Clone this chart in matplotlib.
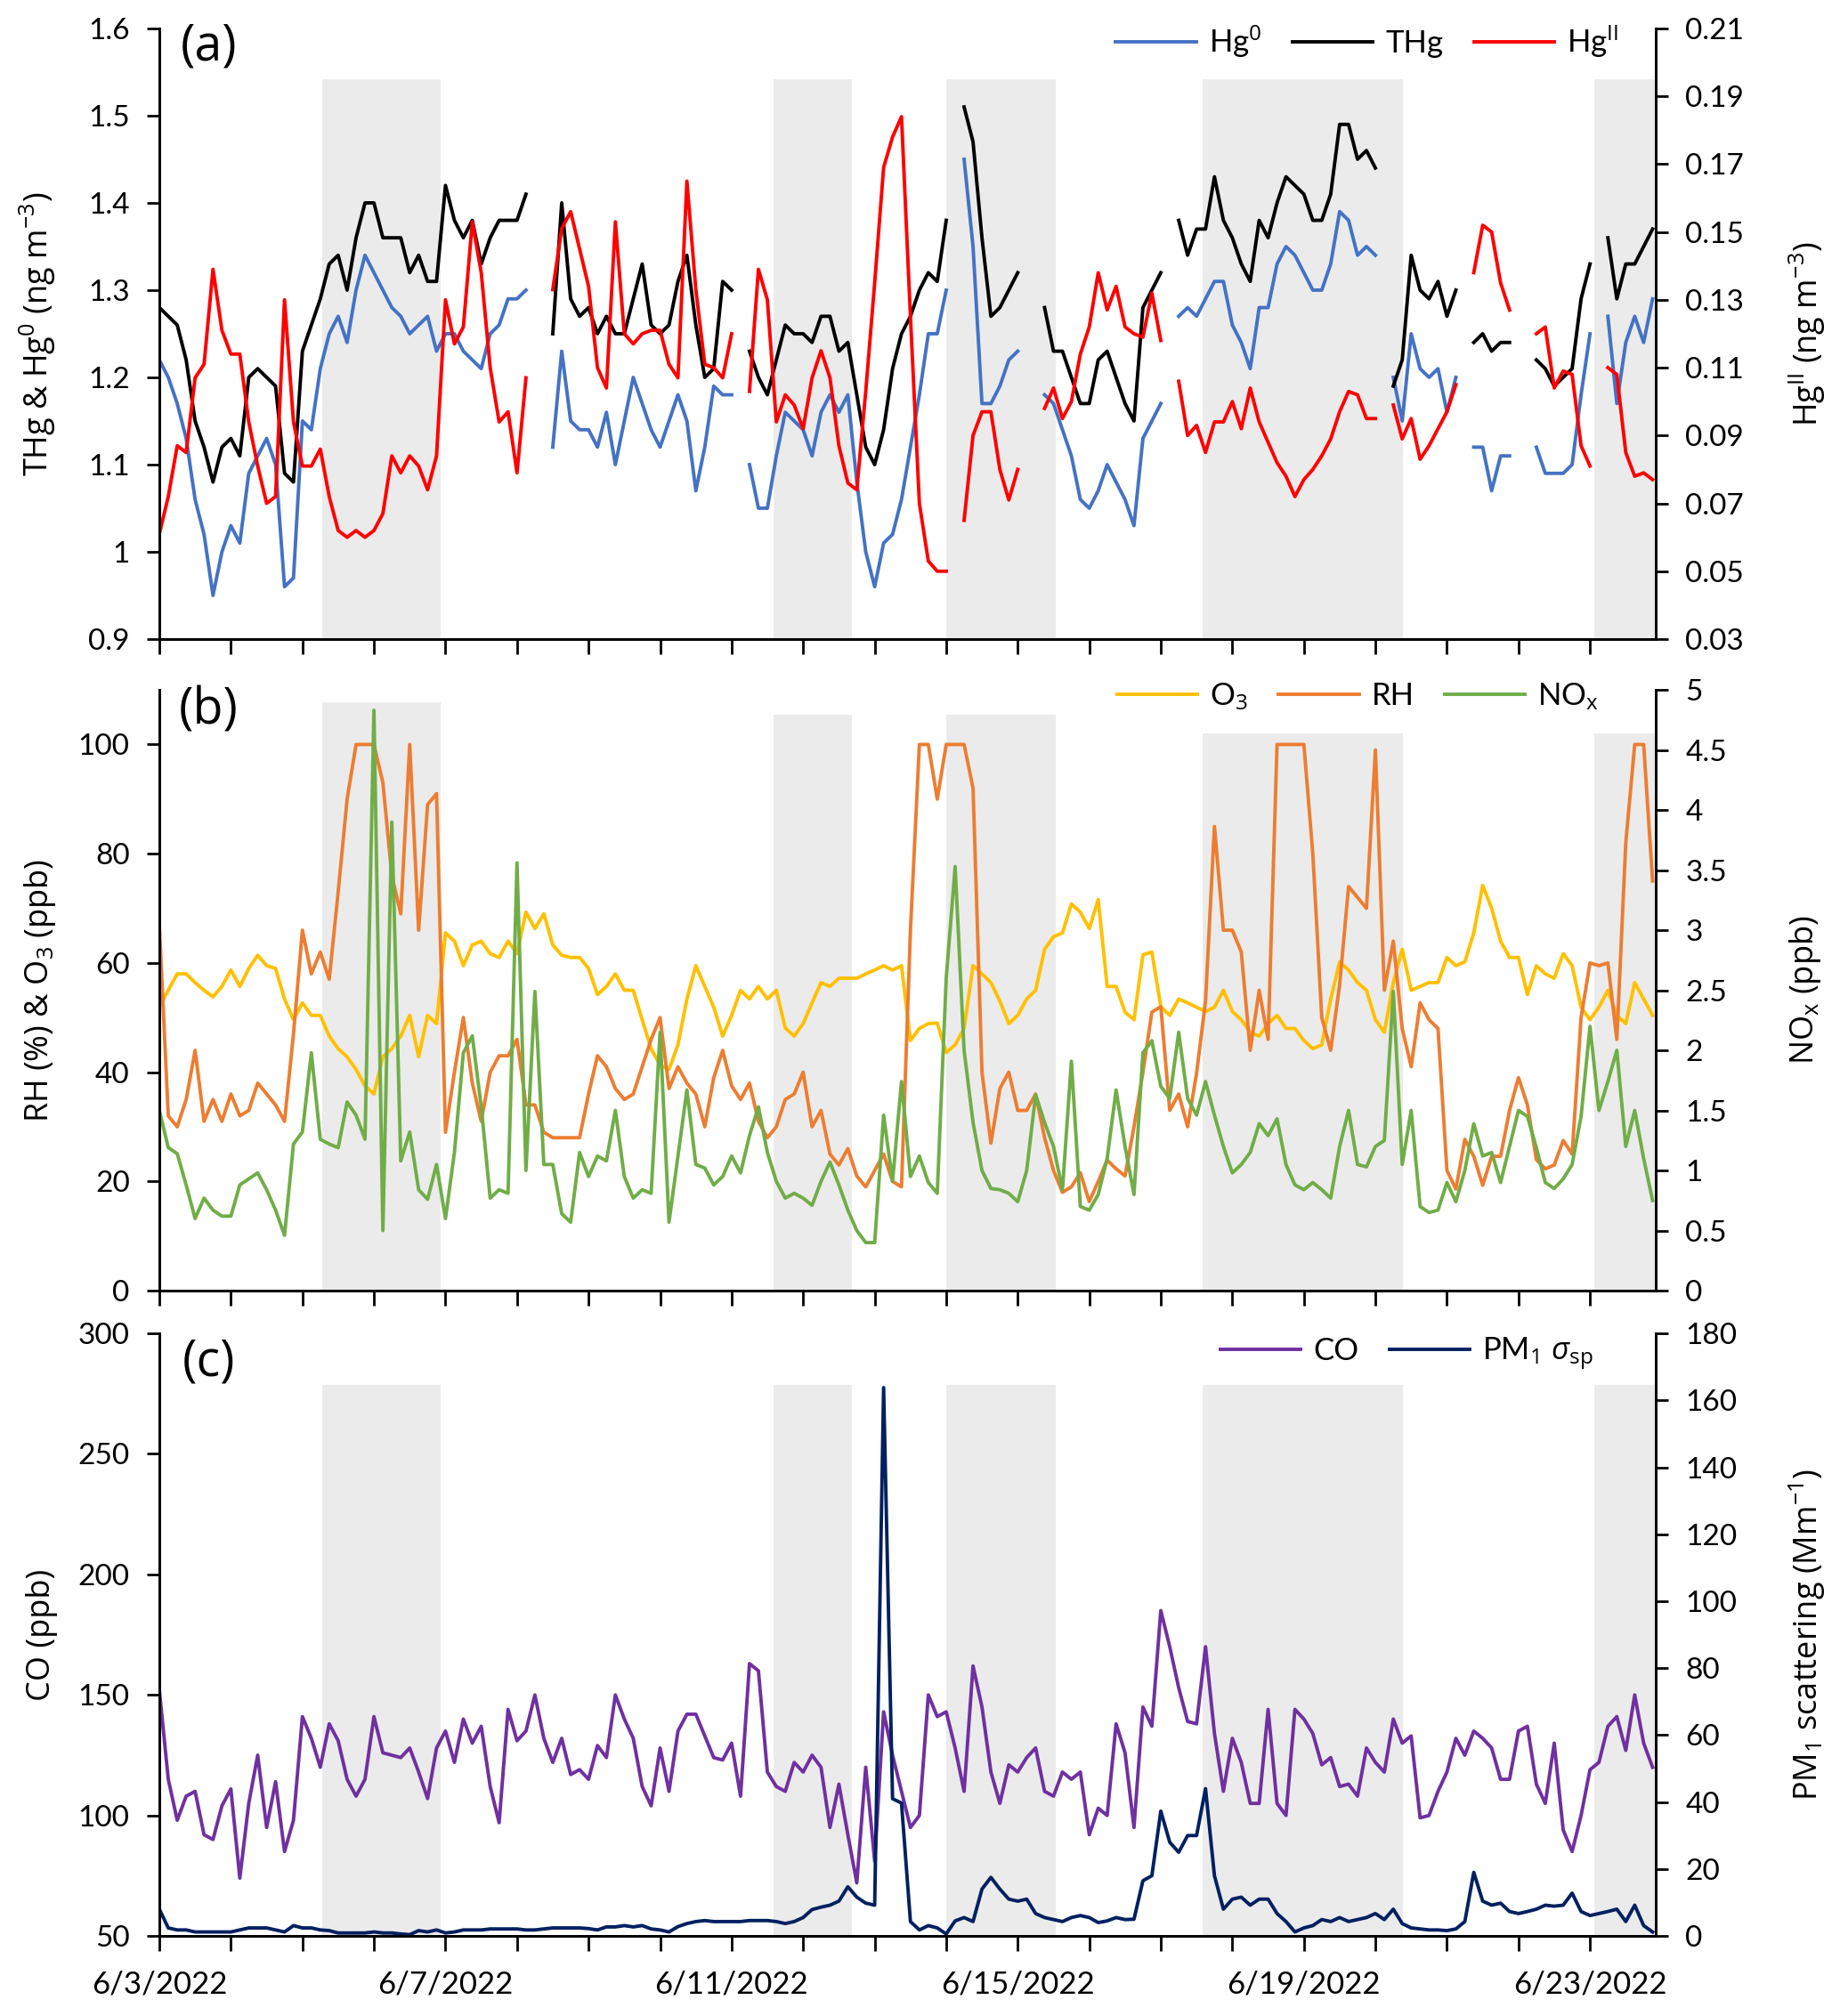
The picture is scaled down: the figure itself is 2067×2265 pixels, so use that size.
import numpy as np
import matplotlib.pyplot as plt

nan = np.nan

# 3-hourly readings, one row per day, starting 6/3/2022 00:00
thg = [
    1.28, 1.27, 1.26, 1.22, 1.15, 1.12, 1.08, 1.12,
    1.13, 1.11, 1.20, 1.21, 1.20, 1.19, 1.09, 1.08,
    1.23, 1.26, 1.29, 1.33, 1.34, 1.30, 1.36, 1.40,
    1.40, 1.36, 1.36, 1.36, 1.32, 1.34, 1.31, 1.31,
    1.42, 1.38, 1.36, 1.38, 1.33, 1.36, 1.38, 1.38,
    1.38, 1.41, nan, nan, 1.25, 1.40, 1.29, 1.27,
    1.28, 1.25, 1.27, 1.25, 1.25, 1.29, 1.33, 1.26,
    1.25, 1.26, 1.31, 1.34, 1.26, 1.20, 1.21, 1.31,
    1.30, nan, 1.23, 1.20, 1.18, 1.22, 1.26, 1.25,
    1.25, 1.24, 1.27, 1.27, 1.23, 1.24, 1.18, 1.12,
    1.10, 1.14, 1.21, 1.25, 1.27, 1.30, 1.32, 1.31,
    1.38, nan, 1.51, 1.47, 1.36, 1.27, 1.28, 1.30,
    1.32, nan, nan, 1.28, 1.23, 1.23, 1.20, 1.17,
    1.17, 1.22, 1.23, 1.20, 1.17, 1.15, 1.28, 1.30,
    1.32, nan, 1.38, 1.34, 1.37, 1.37, 1.43, 1.38,
    1.36, 1.33, 1.31, 1.38, 1.36, 1.40, 1.43, 1.42,
    1.41, 1.38, 1.38, 1.41, 1.49, 1.49, 1.45, 1.46,
    1.44, nan, 1.19, 1.22, 1.34, 1.30, 1.29, 1.31,
    1.27, 1.30, nan, 1.24, 1.25, 1.23, 1.24, 1.24,
    nan, nan, 1.22, 1.21, 1.19, 1.20, 1.21, 1.29,
    1.33, nan, 1.36, 1.29, 1.33, 1.33, 1.35, 1.37,
]
hg0 = [
    1.22, 1.20, 1.17, 1.13, 1.06, 1.02, 0.95, 1.00,
    1.03, 1.01, 1.09, 1.11, 1.13, 1.10, 0.96, 0.97,
    1.15, 1.14, 1.21, 1.25, 1.27, 1.24, 1.30, 1.34,
    1.32, 1.30, 1.28, 1.27, 1.25, 1.26, 1.27, 1.23,
    1.25, 1.25, 1.23, 1.22, 1.21, 1.25, 1.26, 1.29,
    1.29, 1.30, nan, nan, 1.12, 1.23, 1.15, 1.14,
    1.14, 1.12, 1.16, 1.10, 1.15, 1.20, 1.17, 1.14,
    1.12, 1.15, 1.18, 1.15, 1.07, 1.12, 1.19, 1.18,
    1.18, nan, 1.10, 1.05, 1.05, 1.11, 1.16, 1.15,
    1.14, 1.11, 1.16, 1.18, 1.16, 1.18, 1.08, 1.00,
    0.96, 1.01, 1.02, 1.06, 1.12, 1.18, 1.25, 1.25,
    1.30, nan, 1.45, 1.35, 1.17, 1.17, 1.19, 1.22,
    1.23, nan, nan, 1.18, 1.17, 1.14, 1.11, 1.06,
    1.05, 1.07, 1.10, 1.08, 1.06, 1.03, 1.13, 1.15,
    1.17, nan, 1.27, 1.28, 1.27, 1.29, 1.31, 1.31,
    1.26, 1.24, 1.21, 1.28, 1.28, 1.33, 1.35, 1.34,
    1.32, 1.30, 1.30, 1.33, 1.39, 1.38, 1.34, 1.35,
    1.34, nan, 1.20, 1.15, 1.25, 1.21, 1.20, 1.21,
    1.16, 1.20, nan, 1.12, 1.12, 1.07, 1.11, 1.11,
    nan, nan, 1.12, 1.09, 1.09, 1.09, 1.10, 1.18,
    1.25, nan, 1.27, 1.17, 1.24, 1.27, 1.24, 1.29,
]
hg2 = [
    0.061, 0.072, 0.087, 0.085, 0.107, 0.111, 0.139, 0.121,
    0.114, 0.114, 0.094, 0.081, 0.070, 0.072, 0.130, 0.094,
    0.081, 0.081, 0.086, 0.072, 0.062, 0.060, 0.062, 0.060,
    0.062, 0.067, 0.084, 0.079, 0.084, 0.081, 0.074, 0.084,
    0.130, 0.117, 0.122, 0.153, 0.138, 0.110, 0.094, 0.097,
    0.079, 0.107, nan, nan, 0.133, 0.151, 0.156, 0.145,
    0.134, 0.110, 0.104, 0.153, 0.120, 0.117, 0.120, 0.121,
    0.121, 0.111, 0.107, 0.165, 0.133, 0.111, 0.110, 0.107,
    0.120, nan, 0.103, 0.139, 0.130, 0.094, 0.102, 0.099,
    0.092, 0.107, 0.115, 0.107, 0.087, 0.076, 0.074, 0.103,
    0.135, 0.169, 0.178, 0.184, 0.125, 0.070, 0.053, 0.050,
    0.050, nan, 0.065, 0.090, 0.097, 0.097, 0.080, 0.071,
    0.080, nan, nan, 0.098, 0.104, 0.095, 0.100, 0.114,
    0.122, 0.138, 0.127, 0.134, 0.122, 0.120, 0.119, 0.132,
    0.118, nan, 0.106, 0.090, 0.093, 0.085, 0.094, 0.094,
    0.100, 0.092, 0.104, 0.094, 0.088, 0.082, 0.078, 0.072,
    0.077, 0.080, 0.084, 0.089, 0.097, 0.103, 0.102, 0.095,
    0.095, nan, 0.099, 0.089, 0.095, 0.083, 0.087, 0.092,
    0.097, 0.105, nan, 0.138, 0.152, 0.150, 0.135, 0.127,
    nan, nan, 0.120, 0.122, 0.104, 0.109, 0.108, 0.087,
    0.081, nan, 0.110, 0.108, 0.085, 0.078, 0.079, 0.077,
]
o3 = [
    51.9, 55, 58, 58, 56.4, 55, 53.8, 55.7,
    58.7, 55.7, 59, 61.4, 59.5, 59, 53.4, 49.6,
    52.7, 50.4, 50.4, 46.6, 44.3, 42.8, 40.5, 37.5,
    36, 42.8, 44.3, 46.6, 50.4, 42.8, 50.4, 48.9,
    65.5, 64, 59.5, 63.3, 64, 61.7, 61, 64,
    61.7, 69.3, 66.3, 69, 63.3, 61.4, 61, 61,
    59, 54.2, 55.7, 58, 55, 55, 49.6, 44.3,
    41.3, 40.5, 45, 53.4, 59.5, 55.7, 51.9, 46.6,
    50.4, 55, 53.4, 55.7, 53.4, 55, 48.1, 46.6,
    48.9, 52.7, 56.4, 55.7, 57.2, 57.2, 57.2, 58,
    58.7, 59.5, 58.7, 59.5, 45.8, 48, 48.9, 49,
    43.6, 45, 48, 59.5, 58, 56.4, 53, 48.9,
    50.4, 53.4, 55, 62.5, 64.8, 65.5, 70.8, 69.3,
    66.3, 71.6, 55.7, 55.7, 51, 49.6, 61.5, 62,
    52, 50.4, 53.4, 52.7, 51.9, 51.1, 51.9, 55,
    51.1, 49.6, 47.3, 46.6, 48.9, 50.4, 48, 48,
    45.8, 44.3, 45, 53.4, 60.2, 58.7, 56.4, 55,
    49.6, 47.3, 56.4, 62.5, 55, 55.7, 56.4, 56.4,
    61, 59.5, 60.2, 65.5, 74.2, 70, 64, 61,
    61, 54.2, 59.5, 58, 57.2, 61.7, 59.5, 51.9,
    49.6, 51.9, 55, 50.4, 48.9, 56.4, 53.4, 50.4,
]
rh = [
    67, 32, 30, 35, 44, 31, 35, 31,
    36, 32, 33, 38, 36, 34, 31, 47,
    66, 58, 62, 57, 73, 90, 100, 100,
    100, 93, 76, 69, 100, 66, 89, 91,
    29, 40, 50, 38, 31, 40, 43, 43,
    46, 34, 34, 29, 28, 28, 28, 28,
    36, 43, 41, 37, 35, 36, 41, 46,
    50, 37, 41, 38, 36, 30, 39, 44,
    37.5, 35, 38, 31, 28, 30, 35, 36,
    40, 30, 33, 25, 23, 26, 21, 19,
    22, 25, 20, 19, 66, 100, 100, 90,
    100, 100, 100, 92, 40, 27, 37, 40,
    33, 33, 36, 28, 22, 18, 19, 21.6,
    16.3, 20, 23.9, 22.3, 21, 30, 40, 51,
    52, 33, 36, 30, 39.8, 53, 85, 66,
    66, 62, 44, 55, 46, 100, 100, 100,
    100, 80, 50, 44, 56, 74, 72, 70,
    99, 55, 64, 48, 41, 52.7, 49.6, 48,
    22, 18.6, 27.7, 24.6, 19.3, 24.6, 24.6, 33,
    39, 34, 24, 22.3, 23, 27.5, 25, 50,
    60, 59.5, 60, 46, 82, 100, 100, 75,
]
nox = [
    1.50, 1.19, 1.14, 0.88, 0.60, 0.77, 0.67, 0.62,
    0.62, 0.88, 0.93, 0.98, 0.84, 0.67, 0.46, 1.22,
    1.32, 1.98, 1.26, 1.22, 1.19, 1.57, 1.46, 1.26,
    4.83, 0.50, 3.90, 1.08, 1.32, 0.84, 0.76, 1.05,
    0.60, 1.15, 1.98, 2.12, 1.53, 0.77, 0.84, 0.81,
    3.56, 1.00, 2.49, 1.05, 1.05, 0.64, 0.57, 1.15,
    0.95, 1.12, 1.08, 1.50, 0.95, 0.77, 0.84, 0.81,
    2.15, 0.57, 1.12, 1.67, 1.05, 1.02, 0.88, 0.95,
    1.12, 0.98, 1.29, 1.53, 1.15, 0.91, 0.77, 0.81,
    0.77, 0.71, 0.91, 1.07, 0.88, 0.67, 0.50, 0.40,
    0.40, 1.46, 0.91, 1.74, 0.95, 1.12, 0.90, 0.81,
    2.60, 3.53, 2.00, 1.40, 1.00, 0.85, 0.84, 0.81,
    0.74, 1.00, 1.63, 1.40, 1.20, 0.84, 1.91, 0.70,
    0.67, 0.80, 1.10, 1.67, 1.20, 0.80, 1.98, 2.08,
    1.70, 1.60, 2.15, 1.60, 1.46, 1.74, 1.46, 1.20,
    0.98, 1.05, 1.15, 1.39, 1.29, 1.43, 1.05, 0.88,
    0.84, 0.90, 0.84, 0.77, 1.20, 1.50, 1.05, 1.03,
    1.20, 1.25, 2.49, 1.05, 1.50, 0.70, 0.65, 0.67,
    0.90, 0.74, 1.00, 1.39, 1.12, 1.15, 0.90, 1.20,
    1.50, 1.45, 1.19, 0.90, 0.85, 0.93, 1.05, 1.45,
    2.20, 1.50, 1.74, 2.00, 1.20, 1.50, 1.10, 0.75,
]
co = [
    152, 115, 98, 108, 110, 92, 90, 104,
    111, 74, 105, 125, 95, 114, 85, 98,
    141, 132, 120, 138, 131, 115, 108, 115,
    141, 126, 125, 124, 128, 118, 107, 128,
    135, 122, 140, 130, 137, 112, 97, 144,
    131, 135, 150, 132, 122, 132, 117, 119,
    115, 129, 124, 150, 140, 132, 112, 104,
    128, 110, 135, 142, 142, 133, 124, 123,
    130, 108, 163, 160, 118, 112, 110, 122,
    118, 125, 120, 95, 113, 92, 72, 120,
    81, 143, 125, 110, 95, 100, 150, 141,
    143, 128, 110, 162, 145, 118, 105, 121,
    118, 124, 128, 110, 108, 118, 115, 118,
    92, 103, 100, 138, 126, 95, 145, 137,
    185, 170, 153, 139, 138, 170, 134, 110,
    132, 122, 105, 105, 144, 105, 100, 144,
    140, 134, 121, 124, 112, 113, 108, 128,
    122, 118, 140, 130, 133, 99, 100, 110,
    118, 132, 125, 135, 132, 128, 115, 115,
    135, 137, 113, 105, 130, 94, 85, 100,
    119, 122, 137, 141, 127, 150, 130, 120,
]
pm1 = [
    8, 2.4, 1.8, 1.8, 1.2, 1.2, 1.2, 1.2,
    1.2, 1.8, 2.4, 2.4, 2.4, 1.8, 1.2, 3.1,
    2.4, 2.4, 1.8, 1.6, 0.9, 0.9, 0.9, 0.9,
    1.2, 0.9, 0.9, 0.6, 0.4, 1.6, 1.2, 1.8,
    0.9, 1.2, 1.8, 1.8, 1.8, 2.1, 2.1, 2.1,
    2.1, 1.8, 1.8, 2.1, 2.4, 2.4, 2.4, 2.4,
    2.2, 1.8, 2.7, 2.7, 3.1, 2.7, 3.1, 2.1,
    1.8, 1.2, 2.8, 3.7, 4.3, 4.6, 4.3, 4.3,
    4.3, 4.3, 4.6, 4.6, 4.6, 4.3, 3.7, 4.3,
    5.5, 7.9, 8.6, 9.2, 10.4, 14.7, 11.6, 9.8,
    9.2, 163.8, 41, 39.7, 4.3, 1.8, 3.1, 2.4,
    0.6, 4.5, 5.5, 4.3, 14, 17.5, 14, 11,
    10.4, 11, 6.7, 5.5, 4.9, 4.3, 5.5, 6.1,
    5.5, 4, 4.5, 5.5, 4.9, 5, 16.5, 18,
    37.3, 28, 25, 30, 30, 44, 18, 8,
    11, 11.6, 9.2, 11, 11, 6.7, 4.3, 1.2,
    2.4, 3.1, 4.9, 4.3, 5.5, 4.3, 4.9, 5.5,
    6.7, 4.9, 8, 3.7, 2.4, 2.1, 1.8, 1.8,
    1.6, 2.1, 4.3, 19, 10.4, 9.2, 9.8, 7.3,
    6.7, 7.3, 8, 9.2, 8.9, 9.2, 12.8, 7.3,
    6.1, 6.7, 7.3, 8, 4.3, 9.2, 3.1, 1.2,
]

# shaded periods (days since 6/3/2022 00:00)
shade_start = [2.28, 8.59, 11.0, 14.58, 20.06]
shade_end = [3.93, 9.68, 12.53, 17.39, 20.92]

date_labels = ['6/3/2022', '6/7/2022', '6/11/2022', '6/15/2022', '6/19/2022', '6/23/2022']

t = np.arange(len(thg)) * 3 / 24.0

plt.rcParams['font.family'] = ['Lato', 'DejaVu Sans']
plt.rcParams['mathtext.fontset'] = 'custom'
plt.rcParams['mathtext.rm'] = 'Open Sans'
plt.rcParams['mathtext.it'] = 'Open Sans:italic'
plt.rcParams['mathtext.bf'] = 'Open Sans:bold'

LW = 2.8
TICK = 24
LAB = 26
LEG = 25
XMAX = 20.92

fig = plt.figure(figsize=(20.67, 22.65), dpi=100)
rects = [(0.0866, 0.683, 0.8133, 0.3029),
         (0.0866, 0.3598, 0.8133, 0.298),
         (0.0866, 0.0397, 0.8133, 0.2989)]
shade_tops = [[0.917] * 5,
              [0.979, 0.958, 0.958, 0.928, 0.928],
              [0.915] * 5]

xlabels = [''] * 21
for i, lab in zip(range(0, 21, 4), date_labels):
    xlabels[i] = lab


def setup(rect, tops, show_x):
    ax = fig.add_axes(rect)
    ax2 = ax.twinx()
    ax.set_xlim(0, XMAX)
    for a in (ax, ax2):
        a.spines['top'].set_visible(False)
        for s in ('left', 'right', 'bottom'):
            a.spines[s].set_linewidth(2.0)
        a.tick_params(axis='y', direction='out', length=10, width=2,
                      labelsize=TICK, pad=14)
    ax.set_xticks(np.arange(21))
    ax.tick_params(axis='x', direction='out', length=12, width=2,
                   labelsize=25, pad=16)
    ax.set_xticklabels(xlabels if show_x else [''] * 21)
    for s, e, top in zip(shade_start, shade_end, tops):
        ax.axvspan(s, e, ymin=0, ymax=top, color='#ebebeb', lw=0, zorder=0)
    return ax, ax2


def ylabels(ax, ax2, left, right):
    ax.set_ylabel(left, fontsize=LAB, fontfamily='Open Sans')
    ax2.set_ylabel(right, fontsize=LAB, fontfamily='Open Sans')
    ax.yaxis.set_label_coords(-0.068, 0.5)
    ax2.yaxis.set_label_coords(1.088, 0.5)


def fmt(v):
    return '%g' % v


def legend(ax2, handles, anchor, ncol):
    ax2.legend(handles=handles, loc='upper right', bbox_to_anchor=anchor,
               ncol=ncol, frameon=False, fontsize=LEG, handlelength=2.6,
               handletextpad=0.4, columnspacing=1.0, borderaxespad=0,
               borderpad=0)


# (a) mercury
ax, ax2 = setup(rects[0], shade_tops[0], False)
l1, = ax.plot(t, hg0, color='#4472C4', lw=LW, label='Hg$^0$')
l2, = ax.plot(t, thg, color='black', lw=LW, label='THg')
l3, = ax2.plot(t, hg2, color='#FF0000', lw=LW, label=r'Hg$^{\mathrm{II}}$')
ax.set_ylim(0.9, 1.6)
yt = np.round(np.arange(0.9, 1.65, 0.1), 2)
ax.set_yticks(yt)
ax.set_yticklabels([fmt(v) for v in yt])
ax2.set_ylim(0.03, 0.21)
yt2 = np.round(np.arange(0.03, 0.215, 0.02), 2)
ax2.set_yticks(yt2)
ax2.set_yticklabels([fmt(v) for v in yt2])
ylabels(ax, ax2, r'THg & Hg$^0$ (ng m$^{-3}$)', r'Hg$^{\mathrm{II}}$ (ng m$^{-3}$)')
ax.text(0.033, 0.97, '(a)', transform=ax.transAxes, fontsize=40,
        fontfamily='Open Sans', ha='center', va='center')
legend(ax2, [l1, l2, l3], (0.975, 1.008), 3)

# (b) O3, RH, NOx
ax, ax2 = setup(rects[1], shade_tops[1], False)
l1, = ax.plot(t, o3, color='#FFC000', lw=LW, label='O$_3$')
l2, = ax.plot(t, rh, color='#ED7D31', lw=LW, label='RH')
l3, = ax2.plot(t, nox, color='#70AD47', lw=LW, label=r'NO$_{\mathrm{x}}$')
ax.set_ylim(0, 110)
ax.set_yticks(np.arange(0, 101, 20))
ax2.set_ylim(0, 5)
yt2 = np.arange(0, 5.01, 0.5)
ax2.set_yticks(yt2)
ax2.set_yticklabels([fmt(v) for v in yt2])
ylabels(ax, ax2, 'RH (%) & O$_3$ (ppb)', r'NO$_{\mathrm{x}}$ (ppb)')
ax.text(0.033, 0.964, '(b)', transform=ax.transAxes, fontsize=40,
        fontfamily='Open Sans', ha='center', va='center')
legend(ax2, [l1, l2, l3], (0.962, 1.015), 3)

# (c) CO and PM1 scattering
ax, ax2 = setup(rects[2], shade_tops[2], True)
l1, = ax.plot(t, co, color='#7030A0', lw=LW, label='CO')
l2, = ax2.plot(t, pm1, color='#002060', lw=LW, label=r'PM$_1$ $\sigma_{\mathrm{sp}}$')
ax.set_ylim(50, 300)
ax.set_yticks(np.arange(50, 301, 50))
ax2.set_ylim(0, 180)
ax2.set_yticks(np.arange(0, 181, 20))
ylabels(ax, ax2, 'CO (ppb)', r'PM$_1$ scattering (Mm$^{-1}$)')
ax.text(0.033, 0.951, '(c)', transform=ax.transAxes, fontsize=40,
        fontfamily='Open Sans', ha='center', va='center')
legend(ax2, [l1, l2], (0.958, 0.996), 2)

fig.savefig('out.png', dpi=100)
